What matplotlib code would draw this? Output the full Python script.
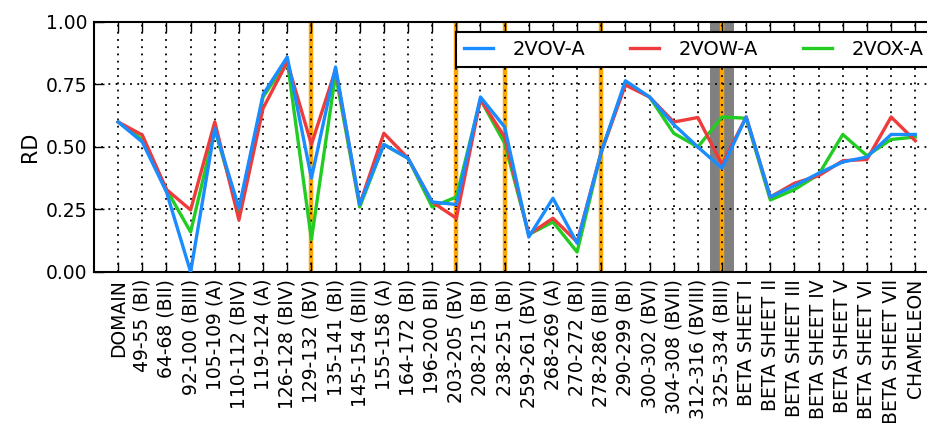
import matplotlib
matplotlib.use("Agg")
import matplotlib.pyplot as plt

regions = [
    "DOMAIN", "49-55 (BI)", "64-68 (BII)", "92-100 (BIII)", "105-109 (A)",
    "110-112 (BIV)", "119-124 (A)", "126-128 (BIV)", "129-132 (BV)",
    "135-141 (BI)", "145-154 (BIII)", "155-158 (A)", "164-172 (BI)",
    "196-200 BII)", "203-205 (BV)", "208-215 (BI)", "238-251 (BI)",
    "259-261 (BVI)", "268-269 (A)", "270-272 (BI)", "278-286 (BIII)",
    "290-299 (BI)", "300-302 (BVI)", "304-308 (BVII)", "312-316 (BVIII)",
    "325-334 (BIII)", "BETA SHEET I", "BETA SHEET II", "BETA SHEET III",
    "BETA SHEET IV", "BETA SHEET V", "BETA SHEET VI", "BETA SHEET VII",
    "CHAMELEON",
]

rd_2vov = [0.60, 0.52, 0.32, 0.00, 0.575, 0.255, 0.71, 0.86, 0.375, 0.82,
           0.27, 0.51, 0.455, 0.28, 0.27, 0.70, 0.58, 0.14, 0.295, 0.115,
           0.48, 0.765, 0.70, 0.59, 0.50, 0.415, 0.62, 0.30, 0.345, 0.395,
           0.44, 0.46, 0.55, 0.55]
rd_2vow = [0.60, 0.548, 0.33, 0.248, 0.60, 0.208, 0.655, 0.84, 0.51, 0.81,
           0.27, 0.555, 0.455, 0.28, 0.215, 0.69, 0.54, 0.15, 0.215, 0.12,
           0.48, 0.748, 0.70, 0.60, 0.618, 0.43, 0.62, 0.30, 0.355, 0.385,
           0.445, 0.45, 0.62, 0.525]
rd_2vox = [0.60, 0.53, 0.33, 0.16, 0.57, 0.24, 0.70, 0.845, 0.13, 0.79,
           0.26, 0.51, 0.455, 0.26, 0.30, 0.69, 0.515, 0.15, 0.20, 0.08,
           0.48, 0.755, 0.70, 0.555, 0.50, 0.62, 0.615, 0.288, 0.33, 0.39,
           0.55, 0.465, 0.53, 0.54]

# regions marked with vertical bars
marked = [8, 14, 16, 20, 25]
shaded = 25

fig = plt.figure(figsize=(9.28, 4.23), dpi=100)
ax = fig.add_axes([0.1013, 0.357, 0.911, 0.591])

x = list(range(len(regions)))

ax.axvspan(shaded - 0.5, shaded + 0.5, color="#808080", zorder=1, lw=0)
for m in marked:
    ax.axvline(m, color="orange", lw=3.2, zorder=1.5)

l_x, = ax.plot(x, rd_2vox, color="#22cc22", lw=2.4, label="2VOX-A", zorder=3)
l_w, = ax.plot(x, rd_2vow, color="#ee3b3b", lw=2.4, label="2VOW-A", zorder=3.1)
l_v, = ax.plot(x, rd_2vov, color="#1a8cff", lw=2.4, label="2VOV-A", zorder=3.2)

ax.set_xlim(-1, 34)
ax.set_ylim(0, 1)
ax.set_xticks(x)
ax.set_xticklabels(regions, rotation=90, fontsize=13.5)
ax.set_yticks([0, 0.25, 0.5, 0.75, 1.0])
ax.set_yticklabels(["0.00", "0.25", "0.50", "0.75", "1.00"], fontsize=13.5)
ax.set_ylabel("RD", fontsize=15)

ax.grid(True, color="black", linestyle=(0, (1, 3)), lw=1.3, zorder=2)
ax.tick_params(direction="in", length=7, width=1, top=True, right=True, pad=5)
for sp in ax.spines.values():
    sp.set_linewidth(1.5)

leg = ax.legend(handles=[l_v, l_w, l_x], ncol=3, loc="upper right",
                bbox_to_anchor=(0.99, 0.96), borderaxespad=0, fontsize=14,
                handlelength=1.5, handletextpad=1.0, columnspacing=2.3,
                fancybox=False, framealpha=1, edgecolor="black")
leg.get_frame().set_linewidth(1.5)
leg.set_zorder(5)

fig.savefig("out.png", dpi=100)
